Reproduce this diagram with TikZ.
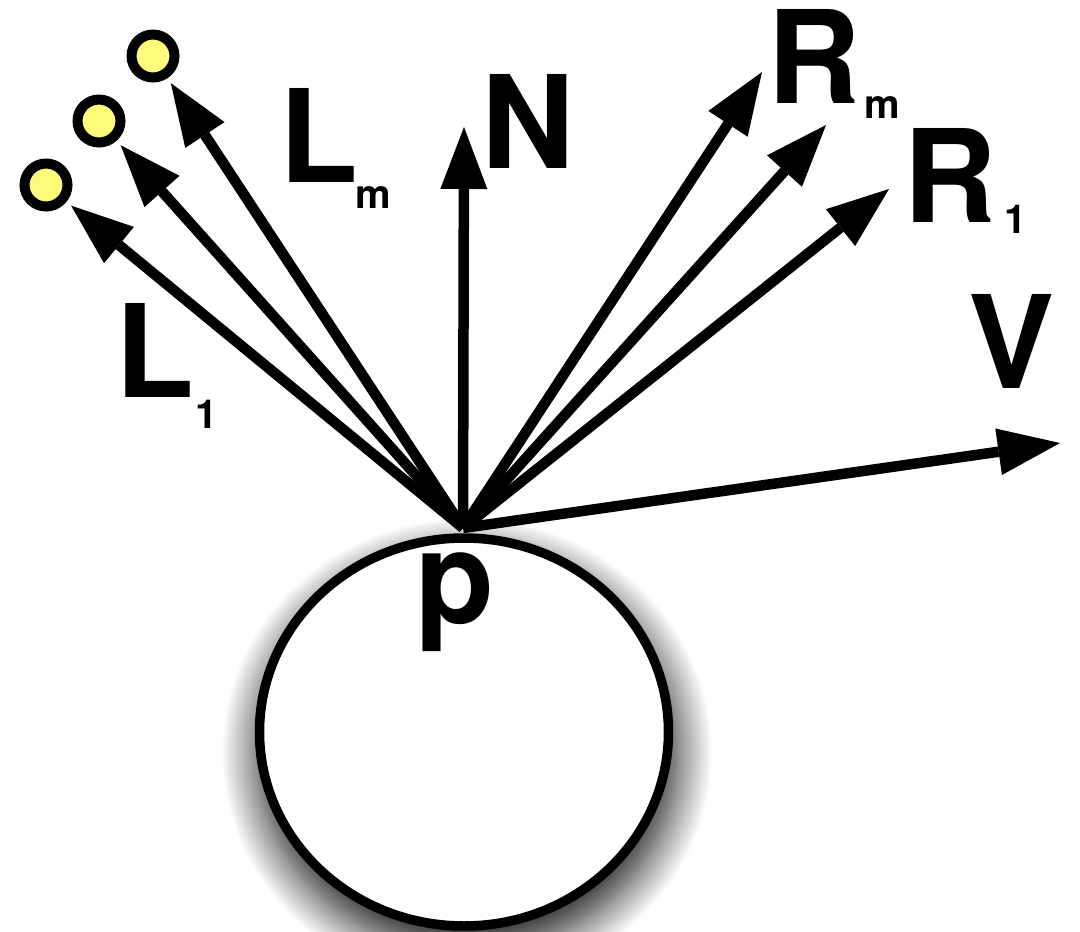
\documentclass[tikz,border=0pt]{standalone}
\usepackage{fontspec}
\setmainfont{TeX Gyre Heros}
\usetikzlibrary{arrows.meta,shadows.blur,shapes.geometric}
\definecolor{lampyellow}{RGB}{255,250,122}
\begin{document}
\begin{tikzpicture}[x=1pt,y=-1pt,
  vec/.style={line width=10.5pt,-{Triangle[length=62pt,width=47pt,line width=0pt]}},
  lamp/.style={circle,draw=black,line width=10pt,fill=lampyellow,minimum size=43pt,inner sep=0pt},
  big/.style={font=\fontsize{129}{129}\selectfont\bfseries,inner sep=0pt,anchor=base},
  small/.style={font=\fontsize{40}{40}\selectfont\bfseries,inner sep=0pt,anchor=base},
  ball/.style={ellipse,draw=black,line width=9.5pt,fill=white,minimum width=409pt,minimum height=388pt,inner sep=0pt,
    blur shadow={shadow xshift=3pt,shadow yshift=-20pt,shadow scale=1.03,shadow blur radius=34pt,shadow opacity=90,shadow blur steps=24}}
]
\useasboundingbox (0,0) rectangle (1080,932);
% sphere
\node[ball] (sphere) at (464,732) {};
% point
\coordinate (p) at (463,528);
% lights
\node[lamp] (lamp1) at (46,185) {};
\node[lamp] (lamp2) at (99,121) {};
\node[lamp] (lamp3) at (153,56) {};
% free ends
\coordinate (tipN) at (464,127);
\coordinate (tipRm) at (762,72);
\coordinate (tipR2) at (826,125);
\coordinate (tipR1) at (889,189);
\coordinate (tipV) at (1060,443);
% vectors
\draw[vec,shorten >=6pt] (p) -- (lamp1);
\draw[vec,shorten >=6pt] (p) -- (lamp2);
\draw[vec,shorten >=6pt] (p) -- (lamp3);
\draw[vec] (p) -- (tipN);
\draw[vec] (p) -- (tipRm);
\draw[vec] (p) -- (tipR2);
\draw[vec] (p) -- (tipR1);
\draw[vec] (p) -- (tipV);
% labels
\node[big] (labL1) at (155,397) {L};
\node[small] (labL1s) at (207,428) {1};
\node[big] (labLm) at (319,182) {L};
\node[small] (labLms) at (373,208) {m};
\node[big] (labN) at (528,168) {N};
\node[big] (labRm) at (814,103) {R};
\node[small] (labRms) at (882,118) {m};
\node[big] (labR1) at (950,222) {R};
\node[small] (labR1s) at (1016,233) {1};
\node[big] (labV) at (1012,388) {V};
\node[big] (labp) at (455,623) {p};
\end{tikzpicture}
\end{document}
